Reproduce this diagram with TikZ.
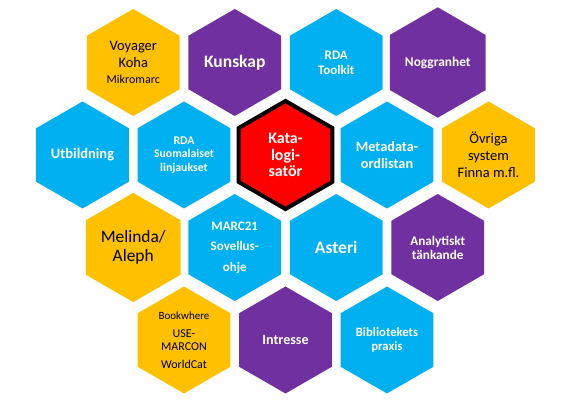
\documentclass[tikz,border=0pt]{standalone}
\usepackage{fontspec}
\setmainfont{Carlito}
\usetikzlibrary{shapes.geometric,positioning}

\definecolor{hexyellow}{HTML}{FFC000}
\definecolor{hexpurple}{HTML}{7030A0}
\definecolor{hexblue}{HTML}{00B0F0}
\definecolor{hexred}{HTML}{FF0000}
\newcommand{\hexfont}[2]{\fontsize{#1}{#2}\selectfont}

\begin{document}
\begin{tikzpicture}[on grid,node distance=92.5pt and 50.75pt,
                    hex/.style={regular polygon,regular polygon sides=6,
                      shape border rotate=30,minimum size=107pt,inner sep=1pt,
                      align=center},
                    yel/.style 2 args={hex,fill=hexyellow,text=black,
                      font=\hexfont{#1}{#2}},
                    pur/.style 2 args={hex,fill=hexpurple,text=white,
                      font=\bfseries\hexfont{#1}{#2}},
                    blu/.style 2 args={hex,fill=hexblue,text=white,
                      font=\bfseries\hexfont{#1}{#2}}]
  \useasboundingbox (0,0) rectangle (568pt,403pt);

  \node[hex,fill=hexred,draw=black,line width=4pt,minimum size=108pt,
        text=white,font=\bfseries\hexfont{16}{16.7}]
                         (K) at (285.5pt,248pt) {Kata-\\logi-\\satör};
  \node[pur={17.5}{20}]   (B) [above left=of K]  {Kunskap};
  \node[blu={13}{15}]     (C) [above right=of K] {RDA\\Toolkit};
  \node[blu={13}{20.5}]   (D) [below left=of K]  {MARC21\\Sovellus-\\ohje};
  \node[blu={17.5}{20}]   (E) [below right=of K] {Asteri};
  \node[blu={11.8}{13.3}] (F) [below left=of B]  {RDA\\Suomalaiset\\linjaukset};
  \node[blu={14.3}{16.7}] (G) [below right=of C] {Metadata-\\ordlistan};
  \node[yel={14.5}{16.7}] (H) [above left=of F]  {Voyager\\Koha\\\hexfont{12}{15}Mikromarc};
  \node[blu={14.5}{17}]   (I) [below left=of H]  {Utbildning};
  \node[yel={17.4}{19}]   (J) [below right=of I] {Melinda/\\Aleph};
  \node[pur={13.4}{16}]   (L) [above right=of G] {Noggranhet};
  \node[yel={14.5}{17}]   (M) [below right=of L] {Övriga\\system\\Finna m.fl.};
  \node[pur={13.2}{14}]   (N) [below left=of M]  {Analytiskt\\tänkande};
  \node[pur={14.1}{16}]   (O) [below left=of E]  {Intresse};
  \node[yel={12}{12.5}]   (P) [below left=of D]  {\hexfont{11}{12.5}Bookwhere\\[5.5pt]USE-\\MARCON\\[5.5pt]WorldCat};
  \node[blu={12.7}{14.7}] (Q) [below right=of E] {Bibliotekets\\praxis};
\end{tikzpicture}
\end{document}
